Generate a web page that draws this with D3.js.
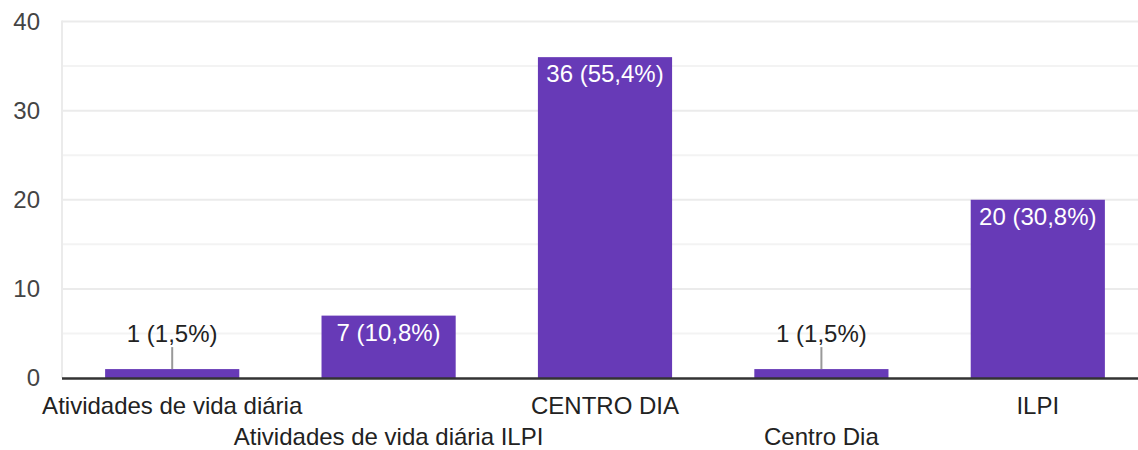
<!DOCTYPE html>
<html>
<head>
<meta charset="utf-8">
<script src="https://cdn.jsdelivr.net/npm/d3@7"></script>
<style>
  body { margin: 0; background: #fff; }
  text { font-family: "Liberation Sans", Arial, sans-serif; }
</style>
</head>
<body>
<div id="chart"></div>
<script>
const width = 1138;
const height = 450;

const categories = ['Atividades de vida diária', 'Atividades de vida diária ILPI', 'CENTRO DIA', 'Centro Dia', 'ILPI'];
const counts = [1, 7, 36, 1, 20];
const labels = ['1 (1,5%)', '7 (10,8%)', '36 (55,4%)', '1 (1,5%)', '20 (30,8%)'];
const majorTicks = [0, 10, 20, 30, 40];
const minorTicks = [5, 15, 25, 35];

const fontSize = '24px';

const svg = d3.select('#chart')
  .append('svg')
  .attr('width', width)
  .attr('height', height);

const x = d3.scaleBand()
  .domain(categories)
  .range([64, 1146])
  .paddingInner(0.38)
  .paddingOuter(0.19);

const y = d3.scaleLinear().domain([0, 40]).range([378, 21.5]);

// gridlines
svg.append('g')
  .selectAll('line')
  .data(minorTicks)
  .enter()
  .append('line')
  .attr('x1', 62).attr('x2', width)
  .attr('y1', d => y(d)).attr('y2', d => y(d))
  .attr('stroke', '#f3f3f3')
  .attr('stroke-width', 2);

svg.append('g')
  .selectAll('line')
  .data(majorTicks.slice(1))
  .enter()
  .append('line')
  .attr('x1', 62).attr('x2', width)
  .attr('y1', d => y(d)).attr('y2', d => y(d))
  .attr('stroke', '#ebebeb')
  .attr('stroke-width', 2);

svg.append('line')
  .attr('x1', 62).attr('x2', 62)
  .attr('y1', y(40) - 1).attr('y2', y(0))
  .attr('stroke', '#ebebeb')
  .attr('stroke-width', 2);

// y axis labels
const yAxis = d3.axisLeft(y).tickValues(majorTicks).tickSize(0).tickPadding(0);
const yG = svg.append('g')
  .attr('transform', 'translate(40, 0)')
  .call(yAxis);
yG.select('.domain').remove();
yG.selectAll('text')
  .attr('font-size', fontSize)
  .attr('font-family', '"Liberation Sans", Arial, sans-serif')
  .attr('fill', '#444');

// bars
svg.append('g')
  .selectAll('rect')
  .data(counts)
  .enter()
  .append('rect')
  .attr('x', (d, i) => x(categories[i]))
  .attr('y', d => y(d))
  .attr('width', x.bandwidth())
  .attr('height', d => y(0) - y(d))
  .attr('fill', '#673ab7');

// value labels
counts.forEach((d, i) => {
  const cx = x(categories[i]) + x.bandwidth() / 2;
  const h = y(0) - y(d);
  if (h > 30) {
    svg.append('text')
      .attr('x', cx)
      .attr('y', y(d) + 25)
      .attr('text-anchor', 'middle')
      .attr('font-size', fontSize)
      .attr('fill', '#fff')
      .text(labels[i]);
  } else {
    svg.append('line')
      .attr('x1', cx).attr('x2', cx)
      .attr('y1', y(d)).attr('y2', y(d) - 22)
      .attr('stroke', '#999')
      .attr('stroke-width', 2);
    svg.append('text')
      .attr('x', cx)
      .attr('y', y(d) - 27)
      .attr('text-anchor', 'middle')
      .attr('font-size', fontSize)
      .attr('fill', '#222')
      .text(labels[i]);
  }
});

// baseline
svg.append('line')
  .attr('x1', 62).attr('x2', width)
  .attr('y1', y(0) + 0.5).attr('y2', y(0) + 0.5)
  .attr('stroke', '#333')
  .attr('stroke-width', 2.5);

// x axis labels, staggered
const xAxis = d3.axisBottom(x).tickSize(0).tickPadding(0);
const xG = svg.append('g')
  .attr('transform', 'translate(0, 378)')
  .call(xAxis);
xG.select('.domain').remove();
xG.selectAll('text')
  .attr('font-size', fontSize)
  .attr('font-family', '"Liberation Sans", Arial, sans-serif')
  .attr('fill', '#222')
  .attr('dy', null)
  .attr('y', (d, i) => i % 2 === 0 ? 36 : 67);
</script>
</body>
</html>
